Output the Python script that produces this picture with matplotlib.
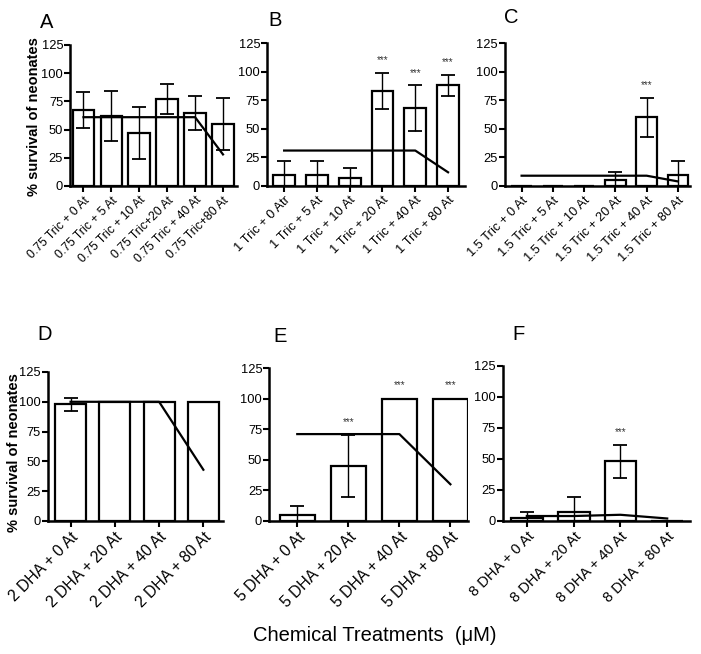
import matplotlib
matplotlib.use("Agg")
import matplotlib.pyplot as plt
from matplotlib import font_manager
import numpy as np

plt.rcParams['font.family'] = ['Liberation Sans', 'DejaVu Sans']

# narrow face for tick labels if available, else regular face a bit smaller
names = {f.name for f in font_manager.fontManager.ttflist}
if "Liberation Sans Narrow" in names:
    tick_font = ["Liberation Sans Narrow", "DejaVu Sans"]
    tick_scale = 1.0
else:
    tick_font = ["Liberation Sans", "DejaVu Sans"]
    tick_scale = 0.84

# panel data: bar means, error (+/-), line values, bars marked ***
labels_a = ["0.75 Tric + 0 At", "0.75 Tric + 5 At", "0.75 Tric + 10 At",
            "0.75 Tric+20 At", "0.75 Tric + 40 At", "0.75 Tric+80 At"]
mean_a = [67, 62, 47, 77, 65, 55]
err_a = [16, 22, 23, 13, 15, 23]
line_a = [61, 61, 61, 61, 61, 28]
stars_a = []

labels_b = ["1 Tric + 0 Atr", "1 Tric + 5 At", "1 Tric + 10 At",
            "1 Tric + 20 At", "1 Tric + 40 At", "1 Tric + 80 At"]
mean_b = [10, 10, 7, 83, 68, 88]
err_b = [12, 12, 9, 16, 20, 9]
line_b = [31, 31, 31, 31, 31, 12]
stars_b = [3, 4, 5]

labels_c = ["1.5 Tric + 0 At", "1.5 Tric + 5 At", "1.5 Tric + 10 At",
            "1.5 Tric + 20 At", "1.5 Tric + 40 At", "1.5 Tric + 80 At"]
mean_c = [0, 0, 0, 5, 60, 10]
err_c = [0, 0, 0, 7, 17, 12]
line_c = [9, 9, 9, 9, 9, 4]
stars_c = [4]

labels_d = ["2 DHA + 0 At", "2 DHA + 20 At", "2 DHA + 40 At", "2 DHA + 80 At"]
mean_d = [98, 100, 100, 100]
err_d = [5.5, 0, 0, 0]
line_d = [100, 100, 100, 43]
stars_d = []

labels_e = ["5 DHA + 0 At", "5 DHA + 20 At", "5 DHA + 40 At", "5 DHA + 80 At"]
mean_e = [5, 45, 100, 100]
err_e = [7.5, 25, 0, 0]
line_e = [71, 71, 71, 30]
stars_e = [1, 2, 3]

labels_f = ["8 DHA + 0 At", "8 DHA + 20 At", "8 DHA + 40 At", "8 DHA + 80 At"]
mean_f = [2, 7, 48, 0]
err_f = [5, 12, 13, 0]
line_f = [4, 4, 5, 2]
stars_f = [2]

fig = plt.figure(figsize=(7.01, 6.54), dpi=100)

panels = [
    ("A", [0.100, 0.7156, 0.238, 0.2156], labels_a, mean_a, err_a, line_a, stars_a, (-0.48, 5.5), 10.5, 0.78),
    ("B", [0.381, 0.7156, 0.2825, 0.2186], labels_b, mean_b, err_b, line_b, stars_b, (-0.52, 5.52), 11, 0.66),
    ("C", [0.720, 0.7156, 0.264, 0.2186], labels_c, mean_c, err_c, line_c, stars_c, (-0.54, 5.38), 11, 0.65),
    ("D", [0.0685, 0.2034, 0.250, 0.2278], labels_d, mean_d, err_d, line_d, stars_d, (-0.51, 3.45), 13.5, 0.70),
    ("E", [0.384, 0.2034, 0.284, 0.2339], labels_e, mean_e, err_e, line_e, stars_e, (-0.55, 3.35), 13.5, 0.68),
    ("F", [0.7175, 0.2034, 0.267, 0.2370], labels_f, mean_f, err_f, line_f, stars_f, (-0.51, 3.49), 12.5, 0.68),
]

letter_pos = {"A": (0.067, 0.966), "B": (0.392, 0.969), "C": (0.730, 0.974),
              "D": (0.064, 0.488), "E": (0.399, 0.486), "F": (0.739, 0.488)}

for name, rect, labels, mean, err, line, stars, xlim, lsize, bw in panels:
    ax = fig.add_axes(rect)
    x = np.arange(len(mean))
    ax.bar(x, mean, width=bw, color="white", edgecolor="black", linewidth=1.6, zorder=2)
    err = np.array(err)
    m = err > 0
    ax.errorbar(x[m], np.array(mean)[m], yerr=err[m], fmt="none", ecolor="black",
                elinewidth=1.0, capsize=5, capthick=1.3, zorder=3)
    ax.plot(x, line, color="black", linewidth=1.6, zorder=4)
    for i in stars:
        ax.text(x[i], mean[i] + err[i] + 11, "***", ha="center", va="center",
                fontsize=7, color="#333333")
    ax.set_xlim(*xlim)
    ax.set_ylim(0, 125)
    ax.set_yticks([0, 25, 50, 75, 100, 125])
    ax.set_yticklabels(["0", "25", "50", "75", "100", "125"], family=tick_font,
                       fontsize=11 * tick_scale)
    ax.set_xticks(x)
    ax.set_xticklabels(labels, rotation=45, ha="right", rotation_mode="anchor",
                       family=tick_font, fontsize=lsize * tick_scale)
    ax.tick_params(axis="y", width=1.5, length=4, pad=1)
    ax.tick_params(axis="x", width=1.5, length=4, pad=2)
    for s in ["top", "right"]:
        ax.spines[s].set_visible(False)
    for s in ["left", "bottom"]:
        ax.spines[s].set_linewidth(1.8)
    if name == "A":
        ax.set_ylabel("% survival of neonates", fontsize=10.5, fontweight="bold")
        ax.yaxis.set_label_coords(-0.175, 0.49)
    if name == "D":
        ax.set_ylabel("% survival of neonates", fontsize=10.5, fontweight="bold")
        ax.yaxis.set_label_coords(-0.155, 0.46)
    fig.text(*letter_pos[name], name, fontsize=14.5, ha="center", va="center")

fig.text(0.535, 0.029, "Chemical Treatments  (\u03bcM)", fontsize=14.5, ha="center", va="center")

fig.savefig("out.png", dpi=100)
